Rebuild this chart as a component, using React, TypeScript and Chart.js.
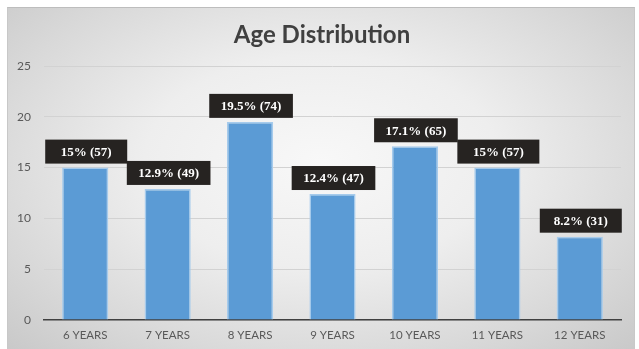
import React, { useEffect, useRef } from "react";
import { Chart, registerables } from "chart.js";

Chart.register(...registerables);

const categories = ["6 YEARS", "7 YEARS", "8 YEARS", "9 YEARS", "10 YEARS", "11 YEARS", "12 YEARS"];
const percentValues = [15, 12.9, 19.5, 12.4, 17.1, 15, 8.2];
const counts = [57, 49, 74, 47, 65, 57, 31];
const yTicks = [0, 5, 10, 15, 20, 25];
const titleText = "Age Distribution";

const labelPlugin = {
  id: "boxLabels",
  afterDatasetsDraw(chart: any) {
    const ctx = chart.ctx;
    const meta = chart.getDatasetMeta(0);
    ctx.save();
    ctx.font = "bold 13px 'Liberation Serif', 'Times New Roman', serif";
    ctx.textAlign = "center";
    ctx.textBaseline = "middle";
    meta.data.forEach((bar: any, i: number) => {
      const text = `${percentValues[i]}% (${counts[i]})`;
      const tw = ctx.measureText(text).width;
      const w = Math.max(tw + 23, 82);
      const h = 24;
      const cx = bar.x + 1;
      const bottom = bar.y - 4;
      ctx.fillStyle = "#262321";
      ctx.fillRect(cx - w / 2, bottom - h, w, h);
      ctx.fillStyle = "#ffffff";
      ctx.fillText(text, cx, bottom - h / 2 + 1);
    });
    ctx.restore();
  },
  afterDraw(chart: any) {
    const ctx = chart.ctx;
    ctx.save();
    ctx.font = "bold 24px Lato, 'Open Sans', sans-serif";
    ctx.fillStyle = "#404040";
    ctx.textAlign = "center";
    ctx.textBaseline = "middle";
    ctx.fillText(titleText, chart.width / 2 + 1, 27);
    ctx.restore();
  },
};

export default function App() {
  const ref = useRef<HTMLCanvasElement | null>(null);
  useEffect(() => {
    if (!ref.current) return;
    const chart = new Chart(ref.current, {
      type: "bar",
      data: {
        labels: categories,
        datasets: [
          {
            data: percentValues,
            backgroundColor: "#5b9bd5",
            borderColor: "#a6cbec",
            borderWidth: 1.5,
            categoryPercentage: 1,
            barPercentage: 0.56,
          },
        ],
      },
      options: {
        animation: false,
        responsive: true,
        maintainAspectRatio: false,
        layout: { padding: { top: 58, right: 13, left: 0, bottom: 0 } },
        plugins: {
          legend: { display: false },
          title: { display: false },
          tooltip: { enabled: false },
        },
        scales: {
          x: {
            grid: { display: false, drawTicks: false },
            border: { color: "#404040", width: 1.5 },
            ticks: {
              color: "#595959",
              font: { family: "Lato, 'Open Sans', sans-serif", size: 11.5 },
              padding: 8,
            },
            afterFit(scale: any) {
              scale.height = 29;
            },
          },
          y: {
            min: 0,
            max: 25,
            afterBuildTicks(scale: any) {
              scale.ticks = yTicks.map((v) => ({ value: v }));
            },
            grid: {
              color: "#d2d2d2",
              lineWidth: 1,
              drawTicks: false,
            },
            border: { display: false },
            ticks: {
              color: "#595959",
              font: { family: "Lato, 'Open Sans', sans-serif", size: 12 },
              padding: 13,
            },
            afterFit(scale: any) {
              scale.width = 36;
            },
          },
        },
      },
      plugins: [labelPlugin],
    });
    return () => chart.destroy();
  }, []);

  return (
    <div
      style={{
        position: "absolute",
        left: 7,
        top: 7,
        width: 628,
        height: 342,
        boxSizing: "border-box",
        borderTop: "1px solid #bdbdbd",
        borderLeft: "1px solid #c8c8c8",
        borderRight: "1px solid #c8c8c8",
        background:
          "radial-gradient(ellipse at 50% 45%, #f8f8f8 0%, #eeeeee 40%, #d9d9d9 75%, #c9c9c9 100%)",
      }}
    >
      <canvas ref={ref} style={{ position: "absolute", left: 0, top: 0, width: "100%", height: "100%" }} />
    </div>
  );
}
